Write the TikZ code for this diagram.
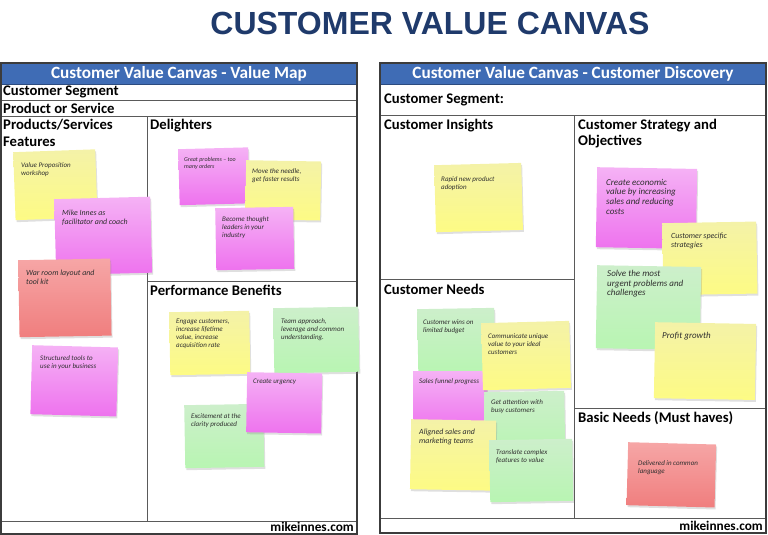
\documentclass[tikz,border=0pt]{standalone}
\usepackage{fontspec}
\setmainfont{Carlito}
\newfontfamily\titlefont{Liberation Sans}
\usepackage{tikz}
\usetikzlibrary{positioning, shadows}
\definecolor{TitleBlue}{HTML}{1F3A6B}
\definecolor{HeadBlue}{HTML}{3F6CB5}
\definecolor{FrameGray}{HTML}{3C3C3C}
\definecolor{LineGray}{HTML}{5A5A5A}
\definecolor{InkGray}{HTML}{2E2E2E}
\definecolor{YelTop}{HTML}{F4F2A8}
\definecolor{YelBot}{HTML}{FDFB84}
\definecolor{MagTop}{HTML}{F5B2F5}
\definecolor{MagBot}{HTML}{EE72EE}
\definecolor{RedTop}{HTML}{F6A6A6}
\definecolor{RedBot}{HTML}{F07E7E}
\definecolor{GrnTop}{HTML}{CDEFCB}
\definecolor{GrnBot}{HTML}{B8F5B2}

\tikzset{
  note/.style={anchor=north west, inner sep=0pt,
    drop shadow={opacity=0.25, shadow xshift=1pt, shadow yshift=-2pt}},
  notesize/.style 2 args={minimum width=#1pt, minimum height=#2pt},
  yelnote/.style={note, top color=YelTop, bottom color=YelBot},
  magnote/.style={note, top color=MagTop, bottom color=MagBot},
  rednote/.style={note, top color=RedTop, bottom color=RedBot},
  grnnote/.style={note, top color=GrnTop, bottom color=GrnBot},
  ink/.style={anchor=north west, inner sep=0pt, align=left, text=InkGray,
    font=\fontsize{7.9}{8.9}\selectfont\itshape},
  smallink/.style={ink, font=\fontsize{7}{8}\selectfont\itshape},
  tinyink/.style={ink, font=\fontsize{6}{7}\selectfont\itshape},
  bigink/.style={ink, font=\fontsize{9}{9.6}\selectfont\itshape},
  celltitle/.style={anchor=west, inner sep=0pt, font=\fontsize{14.7}{16}\selectfont\bfseries},
  headtext/.style={text=white, inner sep=0pt, font=\fontsize{17.2}{18}\selectfont\bfseries},
  webtext/.style={anchor=east, inner sep=0pt, font=\fontsize{13.3}{15}\selectfont\bfseries},
}

\begin{document}
\begin{tikzpicture}[x=1pt, y=-1pt]
    \useasboundingbox (0,0) rectangle (768,535);

    % Title
    \node[font=\titlefont\bfseries\fontsize{32}{34}\selectfont, text=TitleBlue, anchor=base] (title) at (430,35) {CUSTOMER VALUE CANVAS};

    % Value map frame
    \draw[HeadBlue!70!black, fill=HeadBlue] (1,63) rectangle (357,84);
    \node[headtext] (vmhead) at (179,74) {Customer Value Canvas - Value Map};
    \draw[LineGray] (1,100) -- (357,100);
    \draw[LineGray] (1,116) -- (357,116);
    \draw[LineGray] (147,116) -- (147,521);
    \draw[LineGray] (147,281) -- (357,281);
    \draw[LineGray] (1,521) -- (357,521);
    \draw[FrameGray, line width=1.5pt] (1,63) rectangle (357,534);
    \node[celltitle] (vmseg) at (3,92) {Customer Segment};
    \node[celltitle] (vmprod) at (3,108) {Product or Service};
    \node[celltitle] (vmfeat) at (3,125) {Products/Services};
    \node[celltitle] (vmfeat2) at (3,142) {Features};
    \node[celltitle] (vmdel) at (150,126) {Delighters};
    \node[celltitle] (vmperf) at (150,290) {Performance Benefits};
    \node[webtext] (vmweb) at (354,527) {mikeinnes.com};

    % Customer discovery frame
    \draw[HeadBlue!70!black, fill=HeadBlue] (380,63) rectangle (766,84);
    \node[headtext] (cdhead) at (573,74) {Customer Value Canvas - Customer Discovery};
    \draw[LineGray] (380,115) -- (766,115);
    \draw[LineGray] (574,115) -- (574,518);
    \draw[LineGray] (380,279) -- (574,279);
    \draw[LineGray] (574,408) -- (766,408);
    \draw[LineGray] (380,518) -- (766,518);
    \draw[FrameGray, line width=1.5pt] (380,63) rectangle (766,533);
    \node[celltitle] (cdseg) at (384,100) {Customer Segment:};
    \node[celltitle] (cdins) at (384,126) {Customer Insights};
    \node[celltitle] (cdstr) at (578,126) {Customer Strategy and};
    \node[celltitle] (cdstr2) at (578,142) {Objectives};
    \node[celltitle] (cdneed) at (384,289) {Customer Needs};
    \node[celltitle] (cdbasic) at (578,418) {Basic Needs (Must haves)};
    \node[webtext] (cdweb) at (763,526) {mikeinnes.com};

    % Products/Services Features notes
    \node[yelnote, notesize={82}{68}, rotate=2] (vp) at (13,152) {};
    \node[smallink] (vptxt) at ([shift={(8,10)}]vp.north west) {Value Proposition\\workshop};
    \node[magnote, notesize={96}{76}, rotate=1.5] (mike) at (54,199) {};
    \node[ink] (miketxt) at ([shift={(8,11)}]mike.north west) {Mike Innes as\\facilitator and coach};
    \node[rednote, notesize={92}{77}, rotate=1] (war) at (18,260) {};
    \node[ink] (wartxt) at ([shift={(8,10)}]war.north west) {War room layout and\\tool kit};
    \node[magnote, notesize={86}{69}, rotate=-1.5] (tools) at (32,345) {};
    \node[smallink] (toolstxt) at ([shift={(8,10)}]tools.north west) {Structured tools to\\use in your business};

    % Delighters notes
    \node[magnote, notesize={70}{56}, rotate=1.5] (great) at (178,149) {};
    \node[tinyink] (greattxt) at ([shift={(6,8)}]great.north west) {Great problems -- too\\many orders};
    \node[yelnote, notesize={75}{59}, rotate=-1] (needle) at (246,160) {};
    \node[smallink] (needletxt) at ([shift={(6,8)}]needle.north west) {Move the needle,\\get faster results};
    \node[magnote, notesize={78}{62}, rotate=1] (leaders) at (215,208) {};
    \node[smallink] (leaderstxt) at ([shift={(7,8)}]leaders.north west) {Become thought\\leaders in your\\industry};

    % Performance Benefits notes
    \node[yelnote, notesize={80}{63}, rotate=1] (engage) at (169,312) {};
    \node[smallink] (engagetxt) at ([shift={(7,7)}]engage.north west) {Engage customers,\\increase lifetime\\value, increase\\acquisition rate};
    \node[grnnote, notesize={85}{65}, rotate=1] (team) at (273,308) {};
    \node[smallink] (teamtxt) at ([shift={(8,10)}]team.north west) {Team approach,\\leverage and common\\understanding.};
    \node[grnnote, notesize={79}{63}, rotate=1] (excite) at (184,405) {};
    \node[smallink] (excitetxt) at ([shift={(7,8)}]excite.north west) {Excitement at the\\clarity produced};
    \node[magnote, notesize={75}{60}, rotate=-1] (urgency) at (247,372) {};
    \node[smallink] (urgencytxt) at ([shift={(6,7)}]urgency.north west) {Create urgency};

    % Customer Insights notes
    \node[yelnote, notesize={87}{67}, rotate=1.5] (rapid) at (434,165) {};
    \node[smallink] (rapidtxt) at ([shift={(7,11)}]rapid.north west) {Rapid new product\\adoption};

    % Customer Strategy and Objectives notes
    \node[magnote, notesize={100}{80}, rotate=-1] (econ) at (597,167) {};
    \node[bigink] (econtxt) at ([shift={(9,12)}]econ.north west) {Create economic\\value by increasing\\sales and reducing\\costs};
    \node[yelnote, notesize={94}{72}, rotate=1] (specific) at (662,223) {};
    \node[ink] (specifictxt) at ([shift={(9,10)}]specific.north west) {Customer specific\\strategies};
    \node[grnnote, notesize={104}{83}, rotate=-1] (urgent) at (597,265) {};
    \node[bigink] (urgenttxt) at ([shift={(10,5)}]urgent.north west) {Solve the most\\urgent problems and\\challenges};
    \node[yelnote, notesize={101}{76}, rotate=-1] (profit) at (655,322) {};
    \node[bigink] (profittxt) at ([shift={(7,10)}]profit.north west) {Profit growth};

    % Customer Needs notes
    \node[grnnote, notesize={77}{64}, rotate=1] (wins) at (417,309) {};
    \node[smallink] (winstxt) at ([shift={(6,10)}]wins.north west) {Customer wins on\\limited budget};
    \node[magnote, notesize={74}{60}] (funnel) at (413,371) {};
    \node[smallink] (funneltxt) at ([shift={(6,7)}]funnel.north west) {Sales funnel progress};
    \node[yelnote, notesize={88}{67}, rotate=1.5] (unique) at (481,323) {};
    \node[smallink] (uniquetxt) at ([shift={(7,10)}]unique.north west) {Communicate unique\\value to your ideal\\customers};
    \node[grnnote, notesize={80}{62}, rotate=1] (busy) at (484,392) {};
    \node[smallink] (busytxt) at ([shift={(7,7)}]busy.north west) {Get attention with\\busy customers};
    \node[yelnote, notesize={85}{70}, rotate=-1] (aligned) at (411,419) {};
    \node[ink] (alignedtxt) at ([shift={(8,10)}]aligned.north west) {Aligned sales and\\marketing teams};
    \node[grnnote, notesize={83}{62}, rotate=1] (translate) at (489,440) {};
    \node[smallink] (translatetxt) at ([shift={(7,9)}]translate.north west) {Translate complex\\features to value};

    % Basic Needs notes
    \node[rednote, notesize={88}{63}, rotate=-1.5] (common) at (628,442) {};
    \node[smallink] (commontxt) at ([shift={(10,18)}]common.north west) {Delivered in common\\language};
\end{tikzpicture}
\end{document}
